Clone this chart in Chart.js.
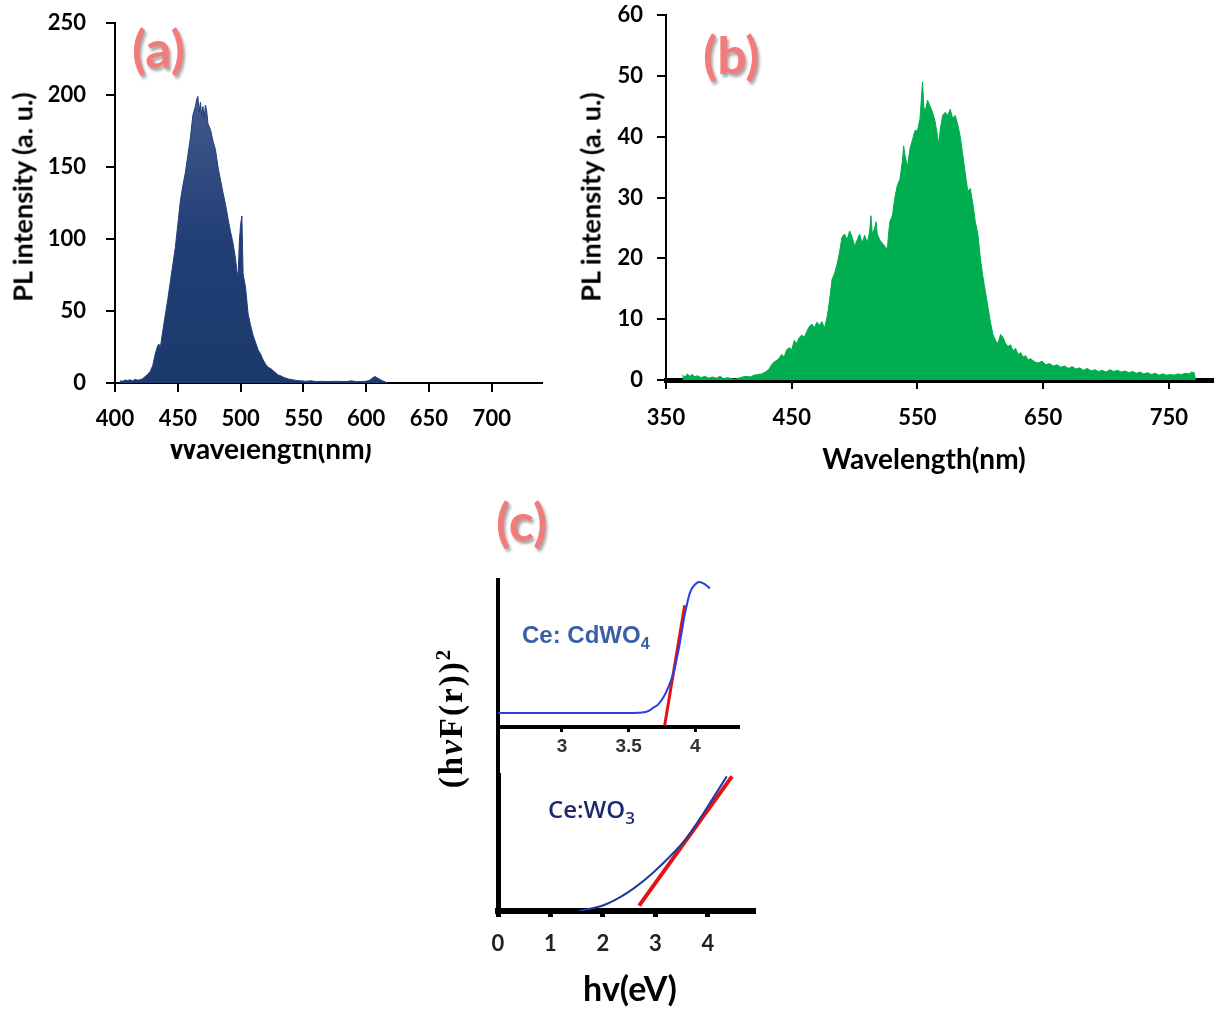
<!DOCTYPE html>
<html>
<head>
<meta charset="utf-8">
<script src="https://cdn.jsdelivr.net/npm/chart.js@4.4.1/dist/chart.umd.min.js"></script>
<style>
  html, body { margin:0; padding:0; background:#fff; }
  body { width:1215px; height:1009px; position:relative; overflow:hidden; font-family: Lato, sans-serif; }
  canvas { position:absolute; }
  .t { position:absolute; white-space:nowrap; color:#000; font-weight:bold; }
  .panel { position:absolute; font-family: Lato, sans-serif; font-weight:bold; font-size:52px; color:#f27b7b; text-shadow: 2px 3px 3px rgba(0,0,0,0.35); line-height:1; }
  .rot { transform: translate(-50%,-50%) rotate(-90deg); }
  .ctr { transform: translate(-50%,-50%); }
</style>
</head>
<body>
<canvas id="ca" width="560" height="470" style="left:0;top:0"></canvas>
<canvas id="cb" width="635" height="480" style="left:580px;top:0"></canvas>
<canvas id="cc1" width="320" height="215" style="left:440px;top:560px"></canvas>
<canvas id="cc2" width="330" height="235" style="left:440px;top:765px"></canvas>

<div class="panel" style="left:132px;top:22px">(a)</div>
<div class="panel" style="left:703px;top:28px">(b)</div>
<div class="panel" style="left:496px;top:495px">(c)</div>

<div class="t rot" style="left:22px;top:197px;font-size:27px">PL intensity (a. u.)</div>
<div style="position:absolute;left:120px;top:444px;width:300px;height:26px;overflow:hidden">
  <div class="t" style="left:0;width:300px;text-align:center;top:-10px;font-size:28px;line-height:28px">Wavelength(nm)</div>
</div>
<div class="t rot" style="left:590px;top:197px;font-size:27px">PL intensity (a. u.)</div>
<div class="t ctr" style="left:924px;top:458px;font-size:28px">Wavelength(nm)</div>

<div class="t rot" style="left:450px;top:718px;font-size:33px;letter-spacing:2px;font-family:'Liberation Serif',serif">(h<i>ν</i>F(r))<sup style="font-size:21px">2</sup></div>
<div class="t ctr" style="left:630px;top:987px;font-size:34px">hv(eV)</div>
<div class="t" style="left:522px;top:621px;font-size:24px;color:#3a5ea8;font-family:'Liberation Sans',Arial,sans-serif">Ce: CdWO<sub style="font-size:16px">4</sub></div>
<div class="t" style="left:548px;top:792px;font-size:24px;color:#1c2b6e;font-weight:600;font-family:'Open Sans',sans-serif">Ce:WO<sub style="font-size:17px">3</sub></div>
<div style="position:absolute;left:496px;top:725px;width:4px;height:52px;background:#000"></div>

<script>
// ---------- Panel (a): PL spectrum, Ce:CdWO4 ----------
const wavelengthA = [404,406,408,410,412,414,416,418,420,422,424,426,428,430,432,434,435,436,438,440,442,444,446,448,450,452,454,456,458,460,462,464,465,466,467,468,469,470,471,472,473,474,476,478,480,482,484,486,488,490,492,494,496,497,498,499,500,501,502,504,506,508,510,512,514,516,518,520,522,524,526,528,530,532,534,536,538,540,544,548,552,556,560,564,568,572,576,580,584,588,592,596,600,603,605,607,609,611,613,615,617];
const intensityA  = [1.5,1.2,2,1.8,2.2,1.5,2.5,2,2.2,3,4.5,6,8,12,20,26,27,24,36,47,58,70,82,94,110,126,137,146,158,170,186,192,197,199,188,195,186,192,184,193,189,180,176,168,162,150,141,132,124,114,105,97,86,78,74,98,110,116,76,66,48,40,33,28,23,20,16,13,11,10,8.5,7,5.5,5,4,3.5,2.8,2.5,1.8,1.5,1.2,1.5,1,1.2,1,1,1.2,1,1,1.5,1,1,1.2,2,3.5,4.5,3.5,2.5,1.5,0.8,0];
const ticksA_x = [400,450,500,550,600,650,700];
const ticksA_y = [0,50,100,150,200,250];

// ---------- Panel (b): PL spectrum, Ce:WO3 ----------
const wavelengthB = [363,365,367,369,371,373,375,378,381,384,387,390,393,396,399,402,405,408,411,414,417,420,423,426,429,432,434,436,438,440,442,444,446,448,450,452,454,456,458,460,462,464,466,468,470,472,474,476,478,480,482,484,486,488,490,492,494,496,498,500,502,504,506,508,510,512,513,514,516,517,518,520,522,524,526,527,528,530,532,534,536,538,539,540,542,544,546,548,550,552,553,554,555,556,558,560,562,564,566,567,568,570,572,574,576,578,580,582,584,586,588,590,592,594,596,598,600,602,604,606,608,610,612,614,616,618,620,622,624,626,628,630,632,634,636,638,640,643,646,649,652,655,658,661,664,667,670,673,676,679,682,685,688,691,694,697,700,703,706,709,712,715,718,721,724,727,730,733,736,739,742,745,748,751,754,757,760,763,766,768,770,771];
const intensityB  = [0.8,0.5,1.0,0.6,0.9,0.5,0.7,0.4,0.6,0.3,0.5,0.3,0.6,0.2,0.4,0.2,0.1,0.3,0.5,0.6,0.5,0.8,0.9,1.0,1.3,1.8,2.5,3.0,3.2,3.6,4.2,3.8,5.0,5.3,5.0,6.5,6.0,7.0,7.4,7.0,8.0,8.8,9.2,8.6,9.5,9.0,9.6,8.5,10.2,13,16.5,17.5,19,21,23.5,24,23,24.5,23.5,22,23,24,22.5,23.8,22.5,24.5,27,24,25,26,24,23,22.5,22,21.5,24,26,27,30,32,33,36,38.5,37,35,38,39.5,41,41,43,46,49,45,44,46,45,44,42.5,40,38.5,41,43.5,44,43.5,44.5,43,43.5,42,40,37,34,31,31.5,29,26,24,20,17,14.5,12,9.5,7.5,6.5,6,7.5,7,6,5.5,5.8,4.8,5.2,4.2,4.5,3.8,4.0,3.3,3.5,3.0,2.8,3.1,2.5,2.7,2.3,2.5,2.1,2.3,1.9,2.2,1.8,2.0,1.6,1.9,1.5,1.7,1.4,1.6,1.3,1.7,1.4,1.6,1.3,1.5,1.2,1.4,1.1,1.3,1.0,1.2,0.9,1.1,0.8,1.0,0.8,0.9,0.8,1.0,0.9,1.1,1.0,1.3,1.2,0];
const ticksB_x = [350,450,550,650,750];
const ticksB_y = [0,10,20,30,40,50,60];

// ---------- Panel (c) top: Tauc plot Ce:CdWO4 ----------
const energyC1 = [2.52,3.0,3.3,3.5,3.6,3.65,3.68,3.72,3.76,3.80,3.84,3.88,3.92,3.96,4.0,4.03,4.07,4.11];
const taucC1   = [0.10,0.10,0.10,0.10,0.103,0.115,0.135,0.16,0.21,0.29,0.40,0.58,0.80,0.96,1.02,1.035,1.02,0.99];
const fitEnergyC1 = [3.77,3.92];
const fitTaucC1   = [0.01,0.87];
const ticksC1_x = [3,3.5,4];

// ---------- Panel (c) bottom: Tauc plot Ce:WO3 ----------
const energyC2 = [1.54,1.8,2.0,2.32,2.6,2.95,3.3,3.6,4.0,4.36];
const taucC2   = [0.0,0.02,0.04,0.1,0.17,0.28,0.41,0.54,0.77,0.99];
const fitEnergyC2 = [2.69,4.46];
const fitTaucC2   = [0.04,0.99];
const ticksC2_x = [0,1,2,3,4];

const zip = (xs, ys) => xs.map((x, i) => ({x, y: ys[i]}));
const keepTicks = list => scale => { scale.ticks = list.map(v => ({value: v})); };
const fixW = w => s => { s.width = w; s.paddingTop = 0; s.paddingBottom = 0; };
const fixH = h => s => { s.height = h; s.paddingLeft = 0; s.paddingRight = 0; };
const plain = v => String(v);

Chart.defaults.font.family = 'Lato, sans-serif';
Chart.defaults.color = '#000';
Chart.defaults.animation = false;
Chart.defaults.plugins.legend.display = false;
Chart.defaults.plugins.tooltip.enabled = false;
Chart.defaults.elements.point.radius = 0;

const tickFont = {size: 22, weight: 'bold'};

// ---- Chart (a)
new Chart(document.getElementById('ca'), {
  type: 'line',
  data: { datasets: [{
    data: zip(wavelengthA, intensityA),
    borderColor: '#223f74', borderWidth: 1, fill: 'origin', tension: 0,
    backgroundColor: (c) => {
      const {chart} = c; const area = chart.chartArea;
      if (!area) return '#1f3b70';
      const g = chart.ctx.createLinearGradient(0, area.top, 0, area.bottom);
      g.addColorStop(0, '#566a9a'); g.addColorStop(0.3, '#3b5387'); g.addColorStop(0.6, '#213f76'); g.addColorStop(1, '#1c396c');
      return g;
    }
  }]},
  options: {
    responsive: false, devicePixelRatio: 1,
    layout: {padding: {top: 23, right: 18, left: 0, bottom: 0}},
    scales: {
      x: { type: 'linear', min: 400, max: 740,
        afterBuildTicks: keepTicks(ticksA_x), afterFit: fixH(87),
        ticks: {font: tickFont, padding: 14, maxRotation: 0, autoSkip: false, callback: plain},
        grid: {drawOnChartArea: false, tickLength: 9, color: '#000', lineWidth: 2},
        border: {color: '#000', width: 2} },
      y: { type: 'linear', min: 0, max: 250,
        afterBuildTicks: keepTicks(ticksA_y), afterFit: fixW(115),
        ticks: {font: tickFont, padding: 20, callback: plain},
        grid: {drawOnChartArea: false, tickLength: 9, color: '#000', lineWidth: 2},
        border: {color: '#000', width: 2} }
    }
  }
});

// ---- Chart (b)
new Chart(document.getElementById('cb'), {
  type: 'line',
  data: { datasets: [{
    data: zip(wavelengthB, intensityB),
    borderColor: '#00ad4f', borderWidth: 1, backgroundColor: '#00ad4f', fill: 'origin', tension: 0
  }]},
  options: {
    responsive: false, devicePixelRatio: 1,
    layout: {padding: {top: 15, right: 2, left: 0, bottom: 0}},
    scales: {
      x: { type: 'linear', min: 350, max: 785,
        afterBuildTicks: keepTicks(ticksB_x), afterFit: fixH(100),
        ticks: {font: tickFont, padding: 16, maxRotation: 0, autoSkip: false, callback: plain},
        grid: {drawOnChartArea: false, tickLength: 9, color: '#000', lineWidth: 2},
        border: {color: '#000', width: 5} },
      y: { type: 'linear', min: 0, max: 60,
        afterBuildTicks: keepTicks(ticksB_y), afterFit: fixW(86),
        ticks: {font: tickFont, padding: 14, callback: plain},
        grid: {drawOnChartArea: false, tickLength: 9, color: '#000', lineWidth: 2},
        border: {color: '#000', width: 2} }
    }
  }
});

// ---- Chart (c) top
new Chart(document.getElementById('cc1'), {
  type: 'line',
  data: { datasets: [
    { data: zip(energyC1, taucC1), borderColor: '#2a3fe0', borderWidth: 2, fill: false, tension: 0.35, cubicInterpolationMode: 'monotone' },
    { data: zip(fitEnergyC1, fitTaucC1), borderColor: '#e01414', borderWidth: 3, fill: false, tension: 0 }
  ]},
  options: {
    responsive: false, devicePixelRatio: 1,
    layout: {padding: {top: 20, right: 22, left: 0, bottom: 0}},
    scales: {
      x: { type: 'linear', min: 2.52, max: 4.32,
        afterBuildTicks: keepTicks(ticksC1_x), afterFit: fixH(48),
        ticks: {font: {size: 19, weight: 'bold', family: "'Liberation Sans', Arial, sans-serif"}, color: '#333', padding: 3, maxRotation: 0, autoSkip: false, callback: plain},
        grid: {drawOnChartArea: false, tickLength: 5, color: '#000', lineWidth: 3},
        border: {color: '#000', width: 4} },
      y: { type: 'linear', min: 0, max: 1.05,
        afterFit: fixW(58),
        ticks: {display: false},
        grid: {display: false},
        border: {color: '#000', width: 4} }
    }
  }
});

// ---- Chart (c) bottom
new Chart(document.getElementById('cc2'), {
  type: 'line',
  data: { datasets: [
    { data: zip(energyC2, taucC2), borderColor: '#1d3b9e', borderWidth: 2, fill: false, tension: 0.35, cubicInterpolationMode: 'monotone' },
    { data: zip(fitEnergyC2, fitTaucC2), borderColor: '#e01414', borderWidth: 4, fill: false, tension: 0 }
  ]},
  options: {
    responsive: false, devicePixelRatio: 1,
    layout: {padding: {top: 10, right: 17, left: 0, bottom: 0}},
    scales: {
      x: { type: 'linear', min: 0, max: 4.86,
        afterBuildTicks: keepTicks(ticksC2_x), afterFit: fixH(89),
        ticks: {font: {size: 22, weight: 'bold'}, color: '#222', padding: 14, maxRotation: 0, autoSkip: false, callback: plain},
        grid: {drawOnChartArea: false, tickLength: 6, color: '#000', lineWidth: 5},
        border: {color: '#000', width: 6} },
      y: { type: 'linear', min: 0, max: 1,
        afterFit: fixW(58),
        ticks: {display: false},
        grid: {display: false},
        border: {color: '#000', width: 5} }
    }
  }
});
</script>
</body>
</html>
